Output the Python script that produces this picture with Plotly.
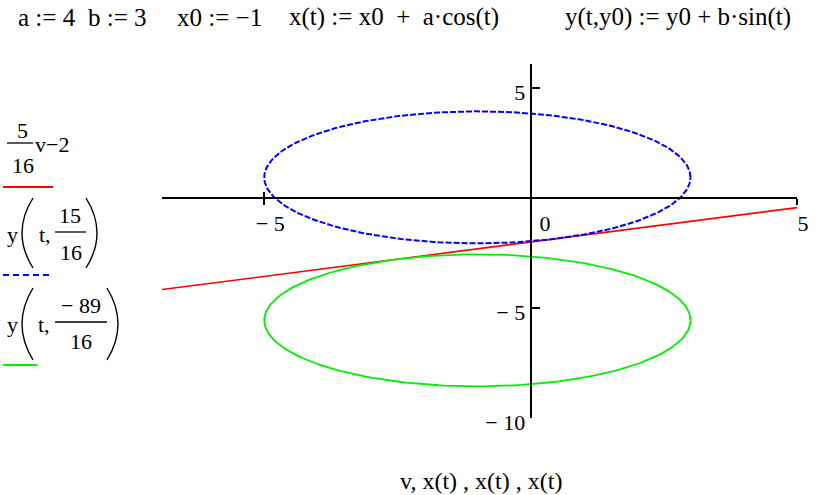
import numpy as np
import plotly.graph_objects as go

# Параметры из заголовка
a = 4
b = 3
x0 = -1
y0_blue = 15 / 16
y0_green = -89 / 16
line_k = 5 / 16
line_c = -2
v_vals = [-6.92, 5.0]
t_vals = np.linspace(0, 2 * np.pi, 241)

x_range = [-6.92, 5.0]
y_range = [-10.0, 6.09]
x_tickvals = [-5, 0, 5]
x_ticktext = ['\u2212 5', '\u2002 0', '5']
y_tickvals = [-10, -5, 5]
y_ticktext = ['\u2212 10', '\u2212 5', '5']

W, H = 821, 495
L, R, T, B = 162, 821 - 797, 64, 495 - 418
FONT = 'Liberation Serif'


def px(x):
    return (x - L) / (W - L - R)


def py(y):
    return (H - B - y) / (H - T - B)


def x_of_t(t):
    return x0 + a * np.cos(t)


def y_of_t(t, y0):
    return y0 + b * np.sin(t)


fig = go.Figure()

v = np.array(v_vals)
fig.add_trace(go.Scatter(x=v, y=line_k * v + line_c, mode='lines',
                         line=dict(color='#ff0000', width=1.6),
                         showlegend=False, hoverinfo='none'))
fig.add_trace(go.Scatter(x=x_of_t(t_vals), y=y_of_t(t_vals, y0_blue), mode='lines',
                         line=dict(color='#0000ff', width=2, dash='6px,2px'),
                         showlegend=False, hoverinfo='none'))
fig.add_trace(go.Scatter(x=x_of_t(t_vals), y=y_of_t(t_vals, y0_green), mode='lines',
                         line=dict(color='#00f000', width=1.8),
                         showlegend=False, hoverinfo='none'))
# пустой след для второй пары осей (засечки внутрь)
fig.add_trace(go.Scatter(x=[None], y=[None], xaxis='x2', yaxis='y2',
                         showlegend=False, hoverinfo='none'))

xpos = (0 - y_range[0]) / (y_range[1] - y_range[0])
ypos = (0 - x_range[0]) / (x_range[1] - x_range[0])

axis_font = dict(family=FONT, size=22, color='black')

fig.update_layout(
    width=W, height=H,
    margin=dict(l=L, r=R, t=T, b=B),
    plot_bgcolor='white', paper_bgcolor='white',
    showlegend=False,
    font=dict(family=FONT),
    xaxis=dict(range=x_range, anchor='free', position=xpos,
               showline=True, linecolor='black', linewidth=2,
               ticks='outside', ticklen=6, tickwidth=1.5, tickcolor='black',
               tickvals=x_tickvals, ticktext=x_ticktext, ticklabelshift=6,
               tickfont=axis_font, showgrid=False, zeroline=False),
    yaxis=dict(range=y_range, anchor='free', position=ypos,
               showline=True, linecolor='black', linewidth=2,
               ticks='inside', ticklen=8, tickwidth=1.5, tickcolor='black',
               tickvals=y_tickvals, ticktext=y_ticktext, ticklabelshift=4,
               tickfont=axis_font, showgrid=False, zeroline=False),
    xaxis2=dict(range=x_range, overlaying='x', anchor='free', position=xpos,
                ticks='inside', ticklen=6, tickwidth=1.5, tickcolor='black',
                tickvals=[-5, 5], showticklabels=False,
                showgrid=False, zeroline=False, showline=False),
    yaxis2=dict(range=y_range, overlaying='y', anchor='free', position=ypos,
                showticklabels=False, ticks='', showgrid=False,
                zeroline=False, showline=False),
)


def text(s, x, y, size=22, xanchor='center'):
    fig.add_annotation(text=s, x=px(x), y=py(y), xref='paper', yref='paper',
                       showarrow=False, xanchor=xanchor, yanchor='middle',
                       font=dict(family=FONT, size=size, color='black'))


def seg(x1, y1, x2, y2, color='black', width=1.3, dash=None):
    fig.add_shape(type='line', xref='paper', yref='paper',
                  x0=px(x1), y0=py(y1), x1=px(x2), y1=py(y2),
                  line=dict(color=color, width=width, dash=dash))


def paren(xa, ytop, ybot, bulge):
    ym = (ytop + ybot) / 2
    path = (f'M {px(xa)},{py(ytop)} Q {px(xa + bulge)},{py(ym)} '
            f'{px(xa)},{py(ybot)}')
    fig.add_shape(type='path', xref='paper', yref='paper', path=path,
                  line=dict(color='black', width=1.4))


# заголовок
sp = '\u00a0'
sp2 = sp * 2
text('a' + sp + ':=' + sp + '4', 16, 17, 25, 'left')
text('b' + sp + ':=' + sp + '3', 86, 17, 25, 'left')
text('x0' + sp + ':=' + sp + '\u22121', 175, 17, 25, 'left')
text('x(t)' + sp + ':=' + sp + 'x0' + sp2 + '+' + sp2 + 'a\u00b7cos(t)', 287, 17, 25, 'left')
text('y(t,y0)' + sp + ':=' + sp + 'y0' + sp + '+' + sp + 'b\u00b7sin(t)', 563, 17, 25, 'left')

# подпись оси
text('v,' + sp + 'x(t)' + sp + ',' + sp + 'x(t)' + sp + ',' + sp + 'x(t)', 481, 481, 24)

# легенда: 5/16 v - 2
text('5', 22.5, 130)
seg(7, 143, 33, 143)
text('v\u22122', 33, 144, 22, 'left')
text('16', 23, 165)
seg(3, 187, 53, 187, '#ff0000', 2)

# легенда: y(t, 15/16)
text('y', 12.5, 234)
paren(33, 198, 268, -22)
text('t,', 37, 234, 22, 'left')
text('15', 70, 215)
seg(55, 232, 86, 232)
text('16', 71, 252)
paren(86, 198, 268, 22)
seg(3, 275, 53, 275, '#0000ff', 2, '6px,4px')

# легенда: y(t, -89/16)
text('y', 12.5, 324)
paren(33, 288, 360, -22)
text('t,', 36, 324, 22, 'left')
text('\u2212 89', 81, 305)
seg(55, 322, 107, 322)
text('16', 81, 341)
paren(107, 288, 360, 22)
seg(3, 365, 37, 365, '#00f000', 2)

# убрать поле страницы, чтобы фигура занимала всё окно
fig.write_html('out.html', config={'displayModeBar': False},
               post_script="document.body.style.margin='0';")
